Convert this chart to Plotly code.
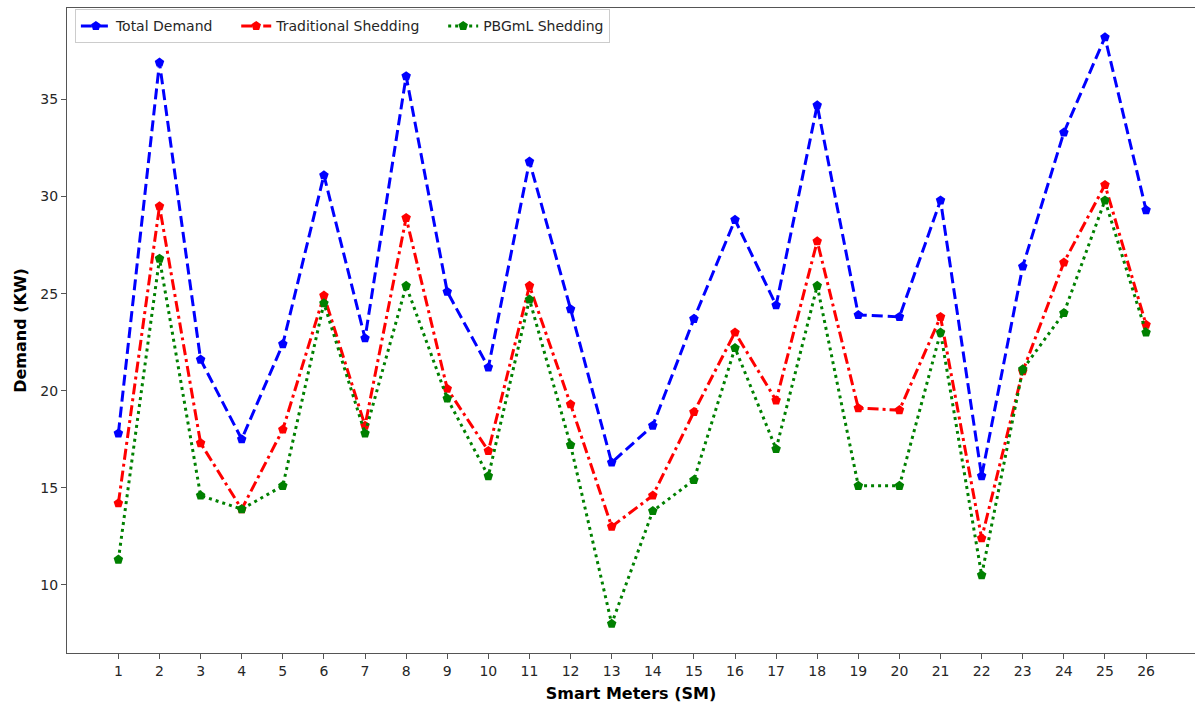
import plotly.graph_objects as go

meters = list(range(1, 27))

total_demand = [17.8, 36.9, 21.6, 17.5, 22.4, 31.1, 22.7, 36.2, 25.1, 21.2,
                31.8, 24.2, 16.3, 18.2, 23.7, 28.8, 24.4, 34.7, 23.9, 23.8,
                29.8, 15.6, 26.4, 33.3, 38.2, 29.3]
traditional_shedding = [14.2, 29.5, 17.3, 13.9, 18.0, 24.9, 18.2, 28.9, 20.1, 16.9,
                        25.4, 19.3, 13.0, 14.6, 18.9, 23.0, 19.5, 27.7, 19.1, 19.0,
                        23.8, 12.4, 21.0, 26.6, 30.6, 23.4]
pbgml_shedding = [11.3, 26.8, 14.6, 13.9, 15.1, 24.5, 17.8, 25.4, 19.6, 15.6,
                  24.7, 17.2, 8.0, 13.8, 15.4, 22.2, 17.0, 25.4, 15.1, 15.1,
                  23.0, 10.5, 21.1, 24.0, 29.8, 23.0]

pad = "\u00a0" * 4
series = [
    ("Total Demand", total_demand, "#0000ff", "11px,5px", pad),
    ("Traditional Shedding", traditional_shedding, "#ff0000", "11px,4px,3px,4px", pad),
    ("PBGmL Shedding", pbgml_shedding, "#008000", "3px,4px", ""),
]

fig = go.Figure()
for name, values, color, dash, tail in series:
    fig.add_trace(go.Scatter(
        x=meters, y=values, name=name + tail, mode="lines+markers",
        line=dict(color=color, width=3, dash=dash),
        marker=dict(symbol="pentagon", size=10, color=color),
    ))

font = "DejaVu Sans, sans-serif"
fig.update_layout(
    width=1195, height=709,
    margin=dict(l=67, r=0, t=8, b=56),
    paper_bgcolor="white", plot_bgcolor="white",
    font=dict(family=font, size=14, color="#262626"),
    showlegend=True,
    legend=dict(
        orientation="h", x=0.007, y=0.998, xanchor="left", yanchor="top",
        bgcolor="rgba(255,255,255,0.8)", bordercolor="#cccccc", borderwidth=1,
        font=dict(family=font, size=14, color="#262626"),
        itemwidth=30, tracegroupgap=0,
    ),
    xaxis=dict(
        range=[-0.25, 27.19], tickmode="array", tickvals=meters,
        ticktext=[str(m) for m in meters],
        showgrid=False, zeroline=False,
        showline=True, linecolor="#555555", linewidth=1.2, mirror=True,
        ticks="outside", ticklen=5, tickcolor="#555555",
        tickfont=dict(family=font, size=14, color="#262626"),
        title=dict(text="<b>Smart Meters (SM)</b>", font=dict(family=font, size=16, color="#000000"), standoff=9),
    ),
    yaxis=dict(
        range=[6.49, 39.71], tickvals=[10, 15, 20, 25, 30, 35],
        showgrid=False, zeroline=False,
        showline=True, linecolor="#555555", linewidth=1.2, mirror=True,
        ticks="outside", ticklen=5, tickcolor="#555555",
        tickfont=dict(family=font, size=14, color="#262626"),
        title=dict(text="<b>Demand (KW)</b>", font=dict(family=font, size=16, color="#000000"), standoff=9),
    ),
)

fig.write_html("out.html")
